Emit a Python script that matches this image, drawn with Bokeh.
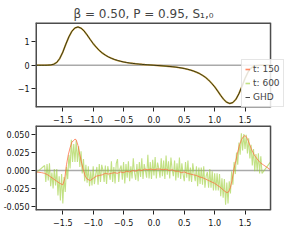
from bokeh.plotting import figure
from bokeh.layouts import column
from bokeh.models import (Legend, LegendItem, FixedTicker,
                          CustomJSTickFormatter, PrintfTickFormatter, Range1d)
from bokeh.embed import file_html
from bokeh.resources import INLINE

# ---------------- data ----------------
ghd_x = [-1.95, -1.90, -1.85, -1.80, -1.75, -1.70, -1.65, -1.60, -1.55, -1.50,
         -1.45, -1.40, -1.35, -1.30, -1.25, -1.20, -1.15, -1.10, -1.05, -1.00,
         -0.95, -0.90, -0.85, -0.80, -0.75, -0.70, -0.65, -0.60, -0.55, -0.50,
         -0.45, -0.40, -0.35, -0.30, -0.25, -0.20, -0.15, -0.10, -0.05, 0.00,
         0.05, 0.10, 0.15, 0.20, 0.25, 0.30, 0.35, 0.40, 0.45, 0.50,
         0.55, 0.60, 0.65, 0.70, 0.75, 0.80, 0.85, 0.90, 0.95, 1.00,
         1.05, 1.10, 1.15, 1.20, 1.25, 1.30, 1.35, 1.40, 1.45, 1.50,
         1.55, 1.60, 1.65, 1.70, 1.75, 1.80, 1.85, 1.90, 1.95]
ghd_y = [0.0, 0.0, 0.0, 0.0, 0.003, 0.012, 0.04, 0.12, 0.29, 0.56,
         0.90, 1.21, 1.45, 1.59, 1.63, 1.58, 1.46, 1.29, 1.10, 0.92,
         0.77, 0.63, 0.52, 0.43, 0.355, 0.295, 0.245, 0.205, 0.17, 0.14,
         0.115, 0.095, 0.078, 0.063, 0.05, 0.038, 0.027, 0.018, 0.009, 0.0,
         -0.009, -0.018, -0.027, -0.038, -0.05, -0.063, -0.078, -0.095, -0.115, -0.14,
         -0.17, -0.205, -0.245, -0.295, -0.355, -0.43, -0.52, -0.63, -0.77, -0.92,
         -1.10, -1.29, -1.46, -1.58, -1.63, -1.59, -1.45, -1.21, -0.90, -0.56,
         -0.29, -0.12, -0.04, -0.012, -0.003, 0.0, 0.0, 0.0, 0.0]

# difference to GHD, t: 150
d150_x = [-1.95, -1.85, -1.80, -1.75, -1.70, -1.65, -1.60, -1.55, -1.50, -1.47,
          -1.44, -1.41, -1.38, -1.35, -1.32, -1.30, -1.28, -1.25, -1.22, -1.19,
          -1.16, -1.13, -1.10, -1.05, -1.00, -0.95, -0.90, -0.85, -0.80, -0.75,
          -0.70, -0.65, -0.60, -0.55, -0.50, -0.45, -0.40, -0.35, -0.30, -0.25,
          -0.20, -0.15, -0.10, -0.05, 0.00, 0.05, 0.10, 0.15, 0.20, 0.25,
          0.30, 0.35, 0.40, 0.45, 0.50, 0.55, 0.60, 0.65, 0.70, 0.75,
          0.80, 0.85, 0.90, 0.95, 1.00, 1.05, 1.10, 1.15, 1.20, 1.23,
          1.26, 1.29, 1.32, 1.35, 1.38, 1.41, 1.44, 1.47, 1.50, 1.53,
          1.56, 1.60, 1.65, 1.70, 1.75, 1.80, 1.92]
d150_y = [-0.002, -0.003, -0.004, -0.006, -0.009, -0.012, -0.015, -0.018, -0.020, -0.012,
          0.008, 0.022, 0.032, 0.040, 0.042, 0.044, 0.043, 0.035, 0.022, 0.010,
          0.000, -0.008, -0.012, -0.014, -0.011, -0.008, -0.007, -0.006, -0.004, -0.005,
          -0.004, -0.003, -0.004, -0.002, -0.003, -0.001, -0.002, 0.000, -0.001, 0.001,
          0.000, 0.002, 0.001, 0.002, 0.001, 0.002, 0.002, 0.001, 0.002, 0.000,
          0.001, -0.001, -0.001, -0.003, -0.002, -0.004, -0.005, -0.006, -0.007, -0.009,
          -0.010, -0.012, -0.014, -0.016, -0.018, -0.021, -0.024, -0.028, -0.031, -0.030,
          -0.024, -0.012, 0.003, 0.014, 0.026, 0.036, 0.043, 0.047, 0.049, 0.046,
          0.040, 0.031, 0.022, 0.016, 0.011, 0.008, 0.001]

# difference to GHD, t: 600 (one row of values per row of x)
d600_x = [-1.95,
          -1.80, -1.78, -1.76, -1.74, -1.72, -1.70, -1.68, -1.66, -1.64, -1.62,
          -1.60, -1.58, -1.56, -1.54, -1.52, -1.50, -1.48, -1.46, -1.44, -1.42,
          -1.40, -1.38, -1.36, -1.34, -1.32, -1.30, -1.28, -1.26, -1.24, -1.22,
          -1.20, -1.18, -1.16, -1.14, -1.12, -1.10, -1.08, -1.06, -1.04, -1.02,
          -1.00, -0.98, -0.96, -0.94, -0.92, -0.90, -0.88, -0.86, -0.84, -0.82,
          -0.80, -0.78, -0.76, -0.74, -0.72, -0.70, -0.68, -0.66, -0.64, -0.62,
          -0.60, -0.58, -0.56, -0.54, -0.52, -0.50, -0.48, -0.46, -0.44, -0.42,
          -0.40, -0.38, -0.36, -0.34, -0.32, -0.30, -0.28, -0.26, -0.24, -0.22,
          -0.20, -0.18, -0.16, -0.14, -0.12, -0.10, -0.08, -0.06, -0.04, -0.02,
          0.00, 0.02, 0.04, 0.06, 0.08, 0.10, 0.12, 0.14, 0.16, 0.18,
          0.20, 0.22, 0.24, 0.26, 0.28, 0.30, 0.32, 0.34, 0.36, 0.38,
          0.40, 0.42, 0.44, 0.46, 0.48, 0.50, 0.52, 0.54, 0.56, 0.58,
          0.60, 0.62, 0.64, 0.66, 0.68, 0.70, 0.72, 0.74, 0.76, 0.78,
          0.80, 0.82, 0.84, 0.86, 0.88, 0.90, 0.92, 0.94, 0.96, 0.98,
          1.00, 1.02, 1.04, 1.06, 1.08, 1.10, 1.12, 1.14, 1.16, 1.18,
          1.20, 1.22, 1.24, 1.26, 1.28, 1.30, 1.32, 1.34, 1.36, 1.38,
          1.40, 1.42, 1.44, 1.46, 1.48, 1.50, 1.52, 1.54, 1.56, 1.58,
          1.60, 1.62, 1.64, 1.66, 1.68, 1.70, 1.72, 1.74, 1.76, 1.78,
          1.92]
d600_y = [-0.004,
          0.007, -0.016, 0.009, -0.014, 0.010, -0.022, -0.003, -0.025, 0.002, -0.021,
          0.002, -0.035, -0.008, -0.042, -0.005, -0.046, -0.009, -0.030, 0.005, -0.012,
          0.022, 0.003, 0.043, 0.012, 0.037, 0.012, 0.042, 0.012, 0.034, 0.005,
          0.027, -0.004, 0.016, -0.015, 0.008, -0.017, 0.006, -0.022, -0.001, -0.021,
          0.006, -0.019, -0.006, 0.005, -0.020, 0.009, -0.016, 0.008, 0.001, -0.016,
          0.007, -0.019, 0.006, -0.004, -0.013, 0.013, -0.016, 0.005, -0.018, 0.010,
          0.016, -0.016, 0.002, 0.007, -0.013, 0.012, -0.018, 0.009, -0.010, 0.013,
          -0.015, 0.006, -0.011, 0.017, -0.003, -0.013, 0.009, -0.015, 0.012, -0.009,
          0.017, -0.012, 0.009, 0.000, -0.010, 0.022, -0.011, 0.012, -0.012, 0.015,
          -0.007, 0.019, -0.011, 0.011, 0.003, -0.010, 0.017, -0.008, 0.014, -0.012,
          0.021, -0.006, 0.013, -0.011, 0.018, 0.002, -0.008, 0.014, -0.014, 0.010,
          -0.010, 0.018, -0.012, 0.010, -0.005, -0.015, 0.012, -0.010, 0.014, -0.015,
          0.004, -0.016, 0.010, -0.004, -0.015, 0.006, -0.022, 0.004, -0.019, 0.004,
          -0.020, 0.006, -0.024, -0.008, -0.002, -0.024, 0.002, -0.024, -0.001, -0.028,
          -0.004, -0.028, -0.004, -0.028, -0.005, -0.036, -0.011, -0.038, -0.012, -0.048,
          -0.017, -0.046, -0.015, -0.032, -0.001, -0.020, 0.012, -0.005, 0.025, 0.008,
          0.039, 0.022, 0.052, 0.028, 0.051, 0.030, 0.050, 0.024, 0.045, 0.017,
          0.036, 0.007, 0.030, -0.001, 0.023, -0.001, 0.024, -0.004, 0.020, -0.004,
          0.012]

title_text = "β = 0.50, P = 0.95,  S₁,₀"
x_ticks = [-1.5, -1.0, -0.5, 0.0, 0.5, 1.0, 1.5]
top_yticks = [-1, 0, 1]
bot_yticks = [-0.05, -0.025, 0.0, 0.025, 0.05]

ORANGE = "#ff6a3d"
GREEN = "#9acd32"
FRAME = "#4d4d4d"
ZERO = "#aaaaaa"
FONT = "DejaVu Sans"

X_LO, X_HI = -1.95, 1.92
TOP_Y_LO, TOP_Y_HI = -1.80, 1.82
BOT_Y_LO, BOT_Y_HI = -0.056, 0.063
X_PAD = 0.23   # room right of the panels so that the legend is not clipped


def style(p):
    p.toolbar.logo = None
    p.xgrid.visible = False
    p.ygrid.visible = False
    p.outline_line_color = None
    for ax in (p.xaxis[0], p.yaxis[0]):
        ax.axis_line_color = None
        ax.major_tick_line_color = "#222222"
        ax.major_tick_out = 4
        ax.major_tick_in = 0
        ax.minor_tick_line_color = None
        ax.major_label_text_font = FONT
        ax.major_label_text_font_size = "8px"
        ax.major_label_text_color = "#111111"
    p.xaxis[0].major_label_standoff = 4
    p.yaxis[0].major_label_standoff = 2
    p.xaxis[0].ticker = FixedTicker(ticks=x_ticks)
    p.xaxis[0].formatter = CustomJSTickFormatter(
        code="return tick.toFixed(1).replace('-', '\u2212');")


def zero_line(p):
    p.segment(x0=[X_LO], y0=[0], x1=[X_HI], y1=[0], line_color=ZERO,
              line_width=1.3)


def frame(p, y_lo, y_hi):
    p.segment(x0=[X_LO, X_LO, X_LO], y0=[y_lo, y_lo, y_hi],
              x1=[X_LO, X_HI, X_HI], y1=[y_hi, y_lo, y_hi],
              line_color=FRAME, line_width=3)
    p.segment(x0=[X_HI], y0=[y_lo], x1=[X_HI], y1=[y_hi],
              line_color=FRAME, line_width=1.5)


xr = Range1d(X_LO, X_HI + X_PAD)

# ---------------- top panel ----------------
p1 = figure(width=284, height=125, x_range=xr,
            y_range=Range1d(TOP_Y_LO, TOP_Y_HI),
            output_backend="svg", toolbar_location=None,
            min_border_left=30, min_border_right=0, min_border_top=22,
            min_border_bottom=18)
p1.title.text = title_text
p1.title.text_font = FONT
p1.title.text_font_size = "12px"
p1.title.text_font_style = "normal"
p1.title.align = "left"
p1.title.offset = 38
p1.title.standoff = 4
style(p1)
p1.yaxis[0].ticker = FixedTicker(ticks=top_yticks)
p1.yaxis[0].formatter = CustomJSTickFormatter(
    code="return tick.toFixed(0).replace('-', '\u2212');")

zero_line(p1)
r150 = p1.line(ghd_x, ghd_y, line_color=ORANGE, line_width=1.6, line_alpha=0.8)
r600 = p1.line(ghd_x, ghd_y, line_color=GREEN, line_width=1.6, line_alpha=0.6)
rghd = p1.line(ghd_x, ghd_y, line_color="#000000", line_width=1.0, line_alpha=0.7)
frame(p1, TOP_Y_LO, TOP_Y_HI)

legend = Legend(items=[LegendItem(label="t: 150", renderers=[r150]),
                       LegendItem(label="t: 600", renderers=[r600]),
                       LegendItem(label="GHD", renderers=[rghd])],
                location=(206, 0))
legend.label_text_font = FONT
legend.label_text_font_size = "9px"
legend.label_height = 12
legend.glyph_height = 12
legend.glyph_width = 5
legend.spacing = 2
legend.padding = 3
legend.margin = 0
legend.label_standoff = 3
legend.border_line_color = "#cccccc"
legend.border_line_width = 1
legend.background_fill_alpha = 0.85
p1.add_layout(legend)

# ---------------- bottom panel ----------------
p2 = figure(width=284, height=105, x_range=xr,
            y_range=Range1d(BOT_Y_LO, BOT_Y_HI),
            output_backend="svg", toolbar_location=None,
            min_border_left=30, min_border_right=0, min_border_top=0,
            min_border_bottom=20)
style(p2)
p2.yaxis[0].ticker = FixedTicker(ticks=bot_yticks)
p2.yaxis[0].formatter = PrintfTickFormatter(format="%.3f")

zero_line(p2)
p2.line(d600_x, d600_y, line_color=GREEN, line_width=1.1, line_alpha=0.6)
p2.line(d150_x, d150_y, line_color=ORANGE, line_width=1.0, line_alpha=0.75)
frame(p2, BOT_Y_LO, BOT_Y_HI)

layout = column(p1, p2, spacing=0)
open("out.html", "w").write(file_html(layout, INLINE))
